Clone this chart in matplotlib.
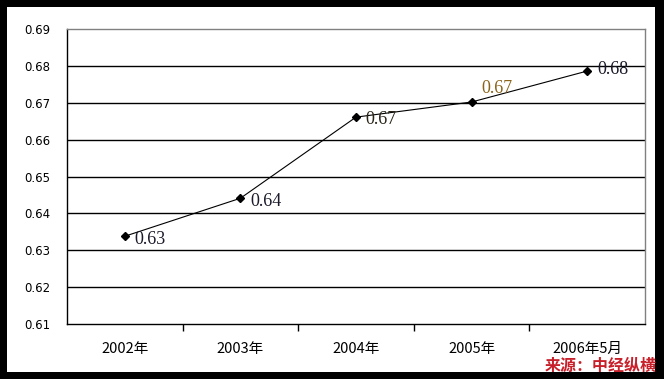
import matplotlib.pyplot as plt
from matplotlib.patches import Rectangle

# data
years = ['2002年', '2003年', '2004年', '2005年', '2006年5月']
values = [0.6338, 0.6441, 0.6661, 0.6702, 0.6786]
labels = ['0.63', '0.64', '0.67', '0.67', '0.68']
label_colors = ['#1a1a2a', '#1a1a2a', '#2a2418', '#8a6418', '#1a1a2a']
yticks = [0.61, 0.62, 0.63, 0.64, 0.65, 0.66, 0.67, 0.68, 0.69]

W, H = 664, 379
fig = plt.figure(figsize=(W / 100, H / 100), dpi=100)
fig.patch.set_facecolor('black')
# white inner area inside the thick black frame
fig.patches.append(Rectangle((7 / W, 7 / H), (655 - 7) / W, (372 - 7) / H,
                             transform=fig.transFigure, facecolor='white',
                             edgecolor='none', zorder=-10))

ax = fig.add_axes([67 / W, (H - 324) / H, 578 / W, 295 / H])
ax.set_facecolor('white')

x = list(range(len(years)))
ax.plot(x, values, color='black', lw=0.8, marker='D', markersize=4.5,
        markerfacecolor='black', zorder=3)

offsets = [(7, -2), (7, -2), (7, -2), (7, 10), (7, 1)]
for i in x:
    ax.annotate(labels[i], (x[i], values[i]), xytext=offsets[i],
                textcoords='offset points', ha='left', va='center',
                fontsize=13, family='Liberation Serif', color=label_colors[i])

ax.set_xlim(-0.5, len(years) - 0.5)
ax.set_ylim(0.61, 0.69)
ax.set_yticks(yticks)
ax.set_yticklabels([f'{v:.2f}' for v in yticks], fontsize=8.5, family='DejaVu Sans')
ax.tick_params(axis='y', length=0, pad=12)

for v in yticks[1:-1]:
    ax.axhline(v, color='black', lw=1, zorder=1)

ax.set_xticks(x)
ax.set_xticklabels(years, fontsize=10.5, family=['Noto Sans CJK SC', 'DejaVu Sans'])
ax.set_xticks([i + 0.5 for i in x[:-1]], minor=True)
ax.tick_params(axis='x', which='major', length=0, pad=13)
ax.tick_params(axis='x', which='minor', length=5, width=1, color='black')

ax.spines['left'].set_color('black')
ax.spines['bottom'].set_color('black')
ax.spines['top'].set_color('#808080')
ax.spines['right'].set_color('#808080')
for s in ax.spines.values():
    s.set_linewidth(1)

fig.text(657 / W, (H - 366) / H, '来源：中经纵横', ha='right', va='center',
         fontsize=11.5, fontweight='heavy', color='#c8202a',
         family=['Noto Sans CJK SC', 'DejaVu Sans'])

fig.savefig('out.png', dpi=100, facecolor=fig.get_facecolor())
